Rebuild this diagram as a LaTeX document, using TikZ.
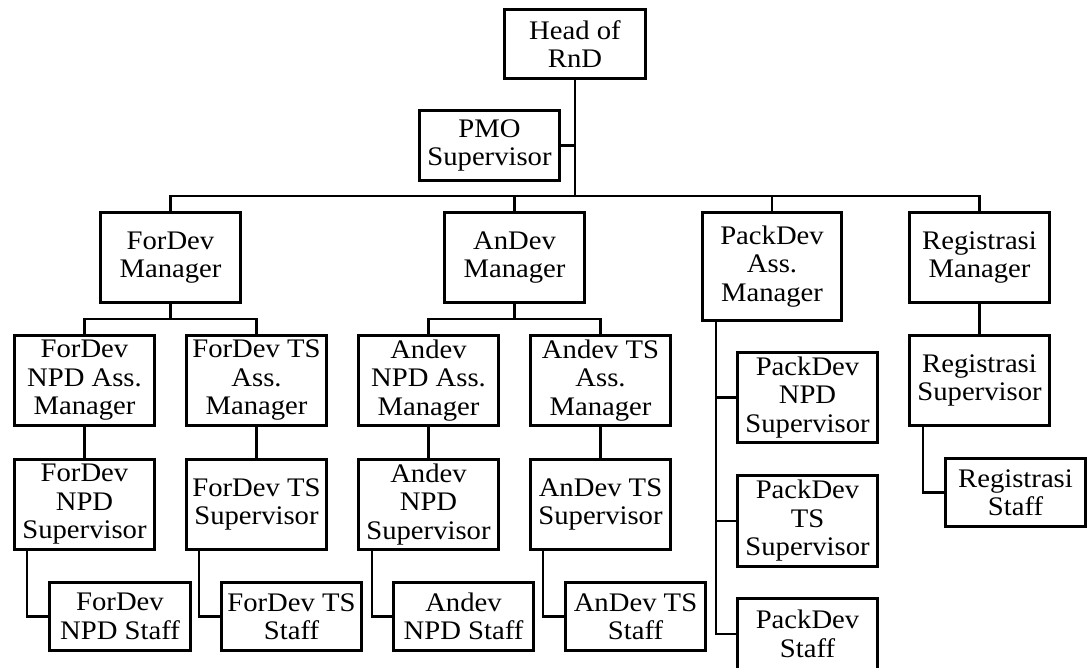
\documentclass[tikz,border=0pt]{standalone}
\usepackage{fontspec}
\setmainfont{Liberation Serif}[FakeStretch=1.07]
\usetikzlibrary{calc}
\begin{document}
\begin{tikzpicture}[x=1pt,y=-1pt,
  bx/.style={draw, line width=2.6pt, align=center, inner sep=0pt,
    font=\fontsize{26.8}{28.5}\selectfont},
  ln/.style={line width=2.6pt}]
\useasboundingbox (0,0) rectangle (1091,667);
\newcommand\obox[6]{\node[bx, minimum width={#4-#2-2.6}, minimum height={#5-#3-2.6}] (#1) at ({(#2+#4)/2},{(#3+#5)/2}) {#6};}
% top
\obox{head}{503}{8}{647}{80}{Head of\\RnD}
\obox{pmo}{418}{109}{561}{182}{PMO\\Supervisor}
% managers
\obox{fdm}{99}{211}{242}{304}{ForDev\\Manager}
\obox{adm}{443}{211}{586}{304}{AnDev\\Manager}
\obox{pdm}{701}{211}{843}{322}{PackDev\\Ass.\\Manager}
\obox{rgm}{908}{211}{1051}{304}{Registrasi\\Manager}
% assistant managers
\obox{fna}{13}{334}{156}{427}{ForDev\\NPD Ass.\\Manager}
\obox{fta}{185}{334}{328}{427}{ForDev TS\\Ass.\\Manager}
\obox{ana}{357}{334}{500}{427}{Andev\\NPD Ass.\\Manager}
\obox{ata}{529}{334}{672}{427}{Andev TS\\Ass.\\Manager}
\obox{rgs}{908}{334}{1051}{427}{Registrasi\\Supervisor}
% supervisors
\obox{fns}{13}{458}{156}{551}{ForDev\\NPD\\Supervisor}
\obox{fts}{185}{458}{328}{551}{ForDev TS\\Supervisor}
\obox{ans}{357}{458}{500}{551}{Andev\\NPD\\Supervisor}
\obox{ats}{529}{458}{672}{551}{AnDev TS\\Supervisor}
\obox{pns}{736}{351}{879}{444}{PackDev\\NPD\\Supervisor}
\obox{pts}{736}{474}{879}{568}{PackDev\\TS\\Supervisor}
% staff
\obox{fnst}{48}{581}{192}{652}{ForDev\\NPD Staff}
\obox{ftst}{220}{581}{363}{652}{ForDev TS\\Staff}
\obox{anst}{392}{581}{535}{652}{Andev\\NPD Staff}
\obox{atst}{564}{581}{707}{652}{AnDev TS\\Staff}
\obox{pdst}{736}{597}{879}{671}{PackDev\\Staff}
\obox{rgst}{944}{457}{1087}{528}{Registrasi\\Staff}
% connectors
\coordinate (bus) at (575,196);
\draw[ln] (head.south) -- (bus);
\draw[ln] (pmo.east) -| (bus);
\draw[ln] (fdm.north) |- (bus) -| (rgm.north);
\draw[ln] (adm.north) |- (bus);
\draw[ln] (pdm.north) |- (bus);
\draw[ln] (fdm.south) -- ++(0,15);
\draw[ln] (fna.north) |- ($(fdm.south)+(0,15)$) -| (fta.north);
\draw[ln] (adm.south) -- ++(0,15);
\draw[ln] (ana.north) |- ($(adm.south)+(0,15)$) -| (ata.north);
\draw[ln] (rgm.south) -- (rgs.north);
\draw[ln] (fna.south) -- (fns.north);
\draw[ln] (fta.south) -- (fts.north);
\draw[ln] (ana.south) -- (ans.north);
\draw[ln] (ata.south) -- (ats.north);
\draw[ln] ($(fns.south west)+(14,0)$) |- (fnst.west);
\draw[ln] ($(fts.south west)+(14,0)$) |- (ftst.west);
\draw[ln] ($(ans.south west)+(15,0)$) |- (anst.west);
\draw[ln] ($(ats.south west)+(14,0)$) |- (atst.west);
\draw[ln] ($(rgs.south west)+(15,0)$) |- (rgst.west);
\draw[ln] ($(pdm.south west)+(15,0)$) |- (pdst.west);
\draw[ln] ($(pdm.south west)+(15,0)$) |- (pns.west);
\draw[ln] ($(pdm.south west)+(15,0)$) |- (pts.west);
\end{tikzpicture}
\end{document}
